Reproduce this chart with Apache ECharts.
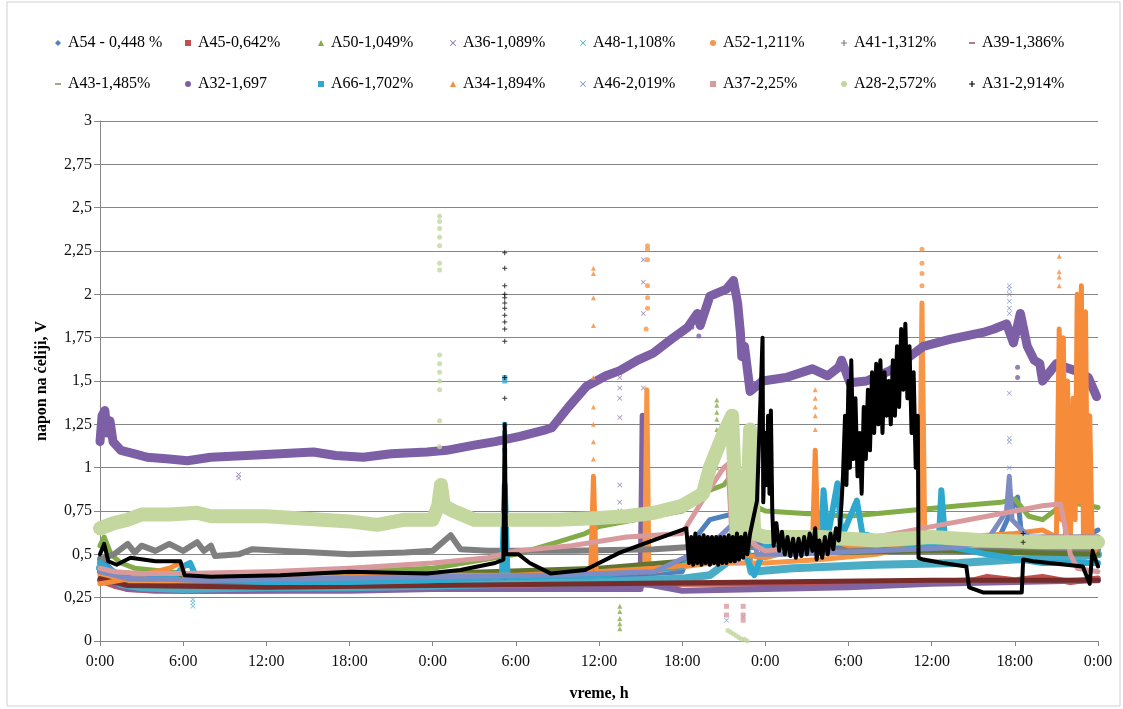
<!DOCTYPE html>
<html><head><meta charset="utf-8">
<script src="https://cdn.jsdelivr.net/npm/echarts@6/dist/echarts.min.js"></script>
<style>html,body{margin:0;padding:0;background:#fff}#c{width:1123px;height:709px}</style>
</head><body><div id="c"></div>
<script>
// ---- tick labels ----
const xTickLabels = ['0:00','6:00','12:00','18:00','0:00','6:00','12:00','18:00','0:00','6:00','12:00','18:00','0:00'];
const yTickLabels = ['0','0,25','0,5','0,75','1','1,25','1,5','1,75','2','2,25','2,5','2,75','3'];

// ---- series names ----
const seriesNames = ['A54 - 0,448 %','A45-0,642%','A50-1,049%','A36-1,089%','A48-1,108%','A52-1,211%','A41-1,312%','A39-1,386%',
  'A43-1,485%','A32-1,697','A66-1,702%','A34-1,894%','A46-2,019%','A37-2,25%','A28-2,572%','A31-2,914%'];

// ---- series values: [hour, voltage] ----
const a54Line = [[0,0.48],[0.5,0.44],[1.5,0.36],[3,0.34],[8,0.33],[16,0.34],[24,0.35],[32,0.36],[38,0.38],[42,0.4],[43,0.6],[44,0.7],[46,0.74],[47,0.72],[47.5,0.55],[49,0.62],[52,0.55],[56,0.55],[60,0.56],[64,0.57],[65,0.62],[66.2,0.83],[66.5,0.6],[68,0.58],[70,0.58],[71.5,0.62],[72,0.64]];
const a54Spikes = [];
const a45Line = [[0,0.35],[1,0.32],[2,0.3],[4,0.29],[10,0.29],[18,0.3],[24,0.3],[30,0.31],[36,0.32],[42,0.33],[48,0.33],[54,0.34],[60,0.34],[63,0.35],[64,0.37],[66,0.35],[68,0.37],[70,0.34],[72,0.36]];
const a45Spikes = [];
const a50Line = [[0,0.55],[0.3,0.6],[0.8,0.5],[1.5,0.45],[2.5,0.42],[5,0.4],[6,0.39],[12,0.39],[18,0.4],[24,0.42],[27,0.46],[30,0.5],[33,0.57],[35,0.62],[36,0.66],[38,0.69],[40,0.72],[42,0.75],[43,0.82],[44,0.87],[45,0.9],[45.5,0.95],[46,0.85],[46.8,0.9],[47.2,0.78],[48,0.75],[50,0.74],[54,0.72],[58,0.75],[62,0.78],[65,0.8],[66,0.82],[67,0.72],[68,0.7],[69,0.76],[70,0.8],[72,0.77]];
const a50Spikes = [[37.5,0.2],[37.5,0.17],[37.5,0.13],[37.5,0.1],[37.5,0.07],[44.5,1.39],[44.5,1.36],[44.5,1.32],[44.5,1.28],[44.5,1.22],[44.5,1.15],[44.5,1.1],[44.5,1.04],[44.5,1.0],[44.5,0.95]];
const a36Line = [[0,0.4],[1,0.33],[2,0.3],[6,0.29],[12,0.29],[18,0.29],[24,0.3],[30,0.3],[36,0.3],[39.0,0.3],[39.15,1.3],[39.3,0.33],[42,0.29],[48,0.3],[54,0.31],[60,0.33],[66,0.34],[72,0.35]];
const a36Spikes = [[10,0.96],[10,0.94],[37.5,1.52],[37.5,1.46],[37.5,1.4],[37.5,1.29],[37.5,0.9],[37.5,0.8],[37.5,0.75],[39.2,2.2],[39.2,2.07],[39.2,1.89],[39.2,1.46]];
const a48Line = [[0,0.42],[0.5,0.38],[1.5,0.33],[3,0.31],[6,0.3],[12,0.31],[18,0.31],[24,0.32],[30,0.33],[36,0.34],[42,0.36],[44,0.38],[46,0.5],[46.5,0.58],[47,0.4],[50,0.42],[56,0.44],[62,0.45],[66,0.47],[70,0.48],[72,0.5]];
const a48Spikes = [[6.7,0.24],[6.7,0.22],[6.7,0.2]];
const a52Line = [[0,0.38],[1,0.35],[3,0.34],[6,0.35],[12,0.36],[18,0.37],[24,0.38],[30,0.4],[36,0.41],[39.3,0.42],[39.45,1.45],[39.6,0.4],[44,0.45],[48,0.45],[52,0.47],[56,0.5],[59.1,0.55],[59.3,1.95],[59.5,0.6],[62,0.55],[66,0.58],[68,0.6],[72,0.6]];
const a52Spikes = [[39.5,2.28],[39.5,2.26],[39.5,2.2],[39.5,2.05],[39.5,1.98],[39.5,1.92],[39.4,1.8],[39.4,1.65],[59.3,2.26],[59.3,2.18],[59.3,2.12],[59.3,2.05]];
const a41Line = [[0,0.47],[1,0.5],[1.5,0.53],[2,0.56],[2.5,0.51],[3,0.55],[4,0.52],[5,0.56],[6,0.52],[7,0.57],[7.5,0.52],[8,0.55],[8.3,0.49],[10,0.5],[11,0.53],[13,0.52],[18,0.5],[22,0.51],[24,0.52],[25.3,0.61],[26,0.53],[28,0.52],[30,0.52],[34,0.52],[40,0.53],[44,0.55],[46,0.55],[50,0.52],[60,0.52],[72,0.53]];
const a41Spikes = [];
const a39Line = [[0,0.36],[2,0.32],[12,0.31],[24,0.32],[36,0.33],[48,0.34],[60,0.35],[72,0.35]];
const a39Spikes = [];
const a43Line = [[0,0.4],[2,0.37],[12,0.37],[24,0.39],[36,0.42],[48,0.5],[60,0.52],[72,0.5]];
const a43Spikes = [];
const a32Line = [[0,1.15],[0.15,1.3],[0.35,1.33],[0.5,1.2],[0.72,1.27],[0.94,1.15],[1.5,1.1],[2.5,1.08],[3.4,1.06],[5,1.05],[6.3,1.04],[8,1.06],[10.6,1.07],[13,1.08],[15.4,1.09],[17,1.07],[19,1.06],[21,1.08],[23.6,1.09],[25,1.1],[27,1.13],[28.5,1.15],[30.3,1.18],[32.2,1.22],[32.6,1.23],[33.8,1.35],[35.1,1.47],[36.5,1.53],[37.5,1.56],[38.8,1.62],[39.9,1.66],[41.2,1.74],[42.4,1.81],[43.1,1.89],[43.3,1.82],[44,1.99],[45.2,2.03],[45.7,2.08],[46.0,1.95],[46.2,1.78],[46.3,1.64],[46.5,1.7],[46.9,1.44],[47.8,1.5],[49.5,1.52],[51.4,1.57],[52.5,1.53],[53.3,1.58],[53.5,1.62],[54.1,1.49],[55.3,1.5],[57,1.56],[58.4,1.64],[59.4,1.7],[61.3,1.74],[62.5,1.76],[63.7,1.78],[64.5,1.8],[65.4,1.83],[65.9,1.72],[66.4,1.89],[66.9,1.7],[67.4,1.62],[67.8,1.6],[68.0,1.5],[69,1.6],[69.6,1.58],[70.7,1.55],[71.3,1.52],[71.9,1.41]];
const a32Spikes = [[42.7,1.81],[43.2,1.76],[66.2,1.58],[66.2,1.52]];
const a66Line = [[0,0.45],[0.5,0.42],[1,0.4],[2,0.36],[4,0.36],[5.5,0.38],[6,0.43],[6.5,0.45],[7,0.36],[12,0.34],[18,0.34],[24,0.35],[29,0.37],[29.2,0.9],[29.4,0.37],[36,0.38],[42,0.43],[44,0.55],[46,0.6],[47.2,0.38],[48,0.55],[50,0.52],[52,0.55],[52.2,0.87],[52.5,0.6],[53.2,0.91],[53.5,0.6],[54.6,0.81],[55,0.62],[58,0.55],[60.5,0.55],[60.7,0.87],[61,0.55],[64,0.5],[68,0.45],[72,0.45]];
const a66Spikes = [[29.2,1.52],[29.2,1.5],[29.2,1.25],[29.2,1.2],[29.2,1.1],[29.2,1.0]];
const a34Line = [[0,0.33],[1.5,0.35],[3,0.38],[5,0.42],[5.8,0.45],[6.2,0.36],[12,0.36],[18,0.37],[24,0.38],[30,0.38],[35.4,0.4],[35.6,0.95],[35.8,0.4],[40,0.42],[44,0.45],[46,0.5],[48,0.48],[51.4,0.55],[51.6,1.1],[51.8,0.6],[54,0.55],[58,0.56],[62,0.6],[66,0.62],[68,0.64],[69.0,0.6],[69.2,1.8],[69.35,0.7],[69.5,1.75],[69.65,0.6],[69.8,1.5],[70.0,0.55],[70.2,1.4],[70.35,0.7],[70.5,2.0],[70.65,0.8],[70.8,2.05],[70.95,0.6],[71.1,1.9],[71.25,0.55],[71.4,1.3],[71.6,0.5],[72,0.55]];
const a34Spikes = [[35.6,2.15],[35.6,2.12],[35.6,1.98],[35.6,1.82],[35.6,1.52],[35.6,1.35],[35.6,1.25],[35.6,1.15],[35.6,1.05],[51.6,1.45],[51.6,1.4],[51.6,1.35],[51.6,1.3],[51.6,1.22],[69.2,2.22],[69.2,2.13],[69.2,2.1],[69.2,2.05]];
const a46Line = [[0,0.4],[2,0.36],[8,0.35],[16,0.36],[24,0.37],[32,0.38],[40,0.4],[44,0.55],[46,0.7],[47,0.72],[47.4,0.5],[50,0.5],[56,0.52],[62,0.54],[64,0.58],[65.4,0.75],[65.6,0.95],[65.8,0.7],[67,0.6],[72,0.6]];
const a46Spikes = [[65.6,2.05],[65.6,2.03],[65.6,2.0],[65.6,1.96],[65.6,1.92],[65.6,1.89],[65.6,1.43],[65.6,1.17],[65.6,1.15],[65.6,1.0],[45.2,0.12],[46.4,0.14]];
const a37Line = [[0,0.42],[1,0.4],[3,0.39],[6,0.39],[12,0.4],[18,0.42],[24,0.45],[28,0.48],[30,0.52],[34,0.55],[38,0.6],[42,0.62],[43,0.75],[44,0.88],[45,1.0],[45.3,1.02],[45.6,0.6],[46,0.45],[46.4,0.62],[47.3,0.55],[48,0.52],[52,0.55],[56,0.6],[60,0.66],[64,0.72],[68,0.78],[69.3,0.79],[70,0.5],[70.5,0.42],[72,0.4]];
const a37Spikes = [[45.2,0.2],[45.2,0.15],[46.4,0.2],[46.4,0.15],[46.4,0.12]];
const a28Line = [[0,0.65],[1,0.68],[2,0.7],[3,0.73],[5,0.73],[7,0.74],[8,0.72],[12,0.72],[16,0.7],[18,0.69],[20,0.67],[22,0.7],[24,0.7],[24.4,0.78],[24.6,0.9],[24.8,0.78],[25.5,0.75],[27,0.7],[30,0.7],[33,0.7],[36,0.71],[38,0.72],[40,0.74],[42,0.78],[43.5,0.85],[44,1.0],[45,1.2],[45.6,1.3],[45.8,0.9],[46,0.55],[46.6,0.6],[46.9,1.22],[47.2,0.62],[48,0.6],[52,0.6],[56,0.58],[60,0.6],[64,0.58],[68,0.57],[72,0.57]];
const a28Spikes = [[24.5,2.45],[24.5,2.42],[24.5,2.38],[24.5,2.33],[24.5,2.28],[24.5,2.18],[24.5,2.14],[24.5,1.65],[24.5,1.6],[24.5,1.55],[24.5,1.5],[24.5,1.45],[24.5,1.27],[24.5,1.12],[45.3,0.06],[45.5,0.05],[45.7,0.04],[45.9,0.03],[46.1,0.02],[46.3,0.01],[46.5,0.01],[46.7,0.0]];
const a31Line = [[0,0.5],[0.3,0.56],[0.6,0.46],[1.2,0.44],[2.2,0.48],[4,0.46],[5.8,0.46],[6.1,0.38],[8,0.37],[13,0.38],[18,0.4],[23.6,0.39],[26,0.41],[28.5,0.45],[29.1,0.47],[29.2,1.25],[29.3,0.5],[30.2,0.5],[31,0.45],[32.5,0.39],[35,0.41],[37.5,0.51],[39.9,0.58],[42.3,0.65],
  [42.5,0.45],[42.65,0.6],[42.8,0.44],[42.95,0.62],[43.1,0.45],[43.25,0.6],[43.4,0.44],[43.55,0.61],[43.7,0.45],[43.85,0.6],[44.0,0.44],[44.15,0.6],[44.3,0.45],[44.45,0.6],[44.6,0.44],[44.75,0.6],[44.9,0.45],[45.05,0.6],[45.2,0.45],[45.35,0.61],[45.5,0.46],[45.65,0.6],[45.8,0.46],[45.95,0.62],[46.1,0.47],[46.25,0.6],[46.4,0.48],[46.55,0.62],[46.7,0.5],[46.9,0.62],
  [47.4,0.81],[47.8,1.75],[47.85,0.8],[48.0,1.2],[48.1,0.9],[48.2,1.3],[48.3,0.85],[48.4,1.33],[48.5,0.75],
  [48.6,0.55],[48.8,0.68],[49.0,0.52],[49.2,0.63],[49.4,0.5],[49.6,0.6],[49.8,0.49],[50.0,0.59],[50.2,0.48],[50.4,0.59],[50.6,0.49],[50.8,0.6],[51.0,0.5],[51.2,0.62],[51.4,0.52],[51.6,0.65],[51.7,0.47],[51.9,0.58],[52.1,0.48],[52.3,0.6],[52.5,0.5],[52.7,0.62],[52.9,0.53],[53.1,0.65],[53.3,0.58],[53.5,0.8],
  [53.6,0.95],[53.75,1.3],[53.85,0.9],[54.0,1.5],[54.1,1.0],[54.2,1.62],[54.35,1.05],[54.5,1.4],[54.65,0.95],[54.8,1.2],[54.95,0.85],[55.1,1.35],[55.25,1.05],[55.4,1.45],[55.55,1.1],[55.7,1.55],[55.85,1.2],[56.0,1.6],[56.15,1.25],[56.3,1.62],[56.45,1.2],[56.6,1.55],[56.75,1.3],[56.9,1.5],[57.05,1.25],[57.2,1.62],[57.35,1.3],[57.5,1.7],[57.65,1.35],[57.8,1.8],[57.95,1.45],[58.1,1.83],[58.25,1.4],[58.4,1.7],[58.55,1.2],[58.7,1.55],[58.85,1.0],[59.0,1.3],[59.05,0.48],
  [59.4,0.47],[60.8,0.45],[62.5,0.43],[62.7,0.31],[63.7,0.28],[66.5,0.28],[66.6,0.47],[67.3,0.46],[70.9,0.43],[71.4,0.33],[71.6,0.52],[72,0.43]];
const a31Spikes = [[29.2,2.24],[29.2,2.15],[29.2,2.05],[29.2,2.0],[29.2,1.98],[29.2,1.95],[29.2,1.92],[29.2,1.88],[29.2,1.84],[29.2,1.8],[29.2,1.73],[29.2,1.52],[29.2,1.4],[66.6,0.57],[66.6,0.62]];

const lineData = [a54Line,a45Line,a50Line,a36Line,a48Line,a52Line,a41Line,a39Line,a43Line,a32Line,a66Line,a34Line,a46Line,a37Line,a28Line,a31Line];
const spikeData = [a54Spikes,a45Spikes,a50Spikes,a36Spikes,a48Spikes,a52Spikes,a41Spikes,a39Spikes,a43Spikes,a32Spikes,a66Spikes,a34Spikes,a46Spikes,a37Spikes,a28Spikes,a31Spikes];

// ---- styles ----
const colors = ['#4F81BD','#C0504D','#82AC47','#8064A2','#4BACC6','#F79646','#7F7F7F','#772C2A','#5F7530','#7D5FA6','#2FA8D0','#F68C3A','#7E8CC4','#D99A9E','#C4D79E','#000000'];
const widths = [5,6,5,6,8,5,6,5,5,9,6,5,5,5,14,4];
const X_ICON = 'path://M0,1L1,0L5,4L9,0L10,1L6,5L10,9L9,10L5,6L1,10L0,9L4,5Z';
const PLUS_ICON = 'path://M4,0H6V4H10V6H6V10H4V6H0V4H4Z';
const DASH_ICON = 'path://M0,4H10V6H0Z';
const icons = ['diamond','rect','triangle',X_ICON,X_ICON,'circle',PLUS_ICON,DASH_ICON,DASH_ICON,'circle','rect','triangle',X_ICON,'rect','circle',PLUS_ICON];

const serif = '"Liberation Serif","Times New Roman",serif';
const colX = [55,185,318,450,580,710,841,969];
const rowY = [35,76];

const legends = seriesNames.map((n,i)=>({
  left: colX[i%8], top: rowY[Math.floor(i/8)], orient:'horizontal',
  data:[{name:n, icon: icons[i]}], itemWidth:6, itemHeight:6, itemGap:0, padding:0,
  textStyle:{fontFamily:serif, fontSize:16, color:'#000', padding:[0,0,0,2]},
  selectedMode:false
}));

const series = [];
seriesNames.forEach((n,i)=>{
  series.push({
    type:'line', name:n, data:lineData[i], showSymbol:false, symbol:'none',
    lineStyle:{color:colors[i], width:widths[i], join:'round', cap:'round'},
    itemStyle:{color:colors[i]}, z: 2+i*0.01, silent:true, animation:false
  });
  series.push({
    type:'scatter', name:n, data:spikeData[i], symbol: icons[i], symbolSize:5,
    itemStyle:{color:colors[i]}, z: 2+i*0.01, silent:true, animation:false
  });
});

const chart = echarts.init(document.getElementById('c'), null, {renderer:'canvas'});
chart.setOption({
  backgroundColor:'#fff',
  animation:false,
  color: colors,
  legend: legends,
  graphic:[{type:'rect', shape:{x:7,y:2,width:1113,height:704}, style:{fill:'none', stroke:'#d0d0d0', lineWidth:1}, silent:true, z:-1}],
  grid:{left:100, right:25, top:121, bottom:68},
  xAxis:{
    type:'value', min:0, max:72, interval:6,
    name:'vreme, h', nameLocation:'middle', nameGap:45,
    nameTextStyle:{fontFamily:serif, fontSize:16, fontWeight:'bold', color:'#000'},
    axisLine:{show:true, onZero:false, lineStyle:{color:'#868686', width:1}},
    axisTick:{show:true, inside:false, length:5, lineStyle:{color:'#868686'}},
    splitLine:{show:false},
    axisLabel:{fontFamily:serif, fontSize:16, color:'#111', margin:13,
      formatter:(v)=>xTickLabels[Math.round(v/6)]}
  },
  yAxis:{
    type:'value', min:0, max:3, interval:0.25,
    name:'napon na ćeliji, V', nameLocation:'middle', nameGap:50, nameRotate:90,
    nameTextStyle:{fontFamily:serif, fontSize:16, fontWeight:'bold', color:'#000'},
    axisLine:{show:true, lineStyle:{color:'#868686', width:1}},
    axisTick:{show:true, inside:false, length:6, lineStyle:{color:'#868686'}},
    splitLine:{show:true, lineStyle:{color:'#868686', width:1}},
    axisLabel:{fontFamily:serif, fontSize:16, color:'#111', margin:8,
      formatter:(v)=>yTickLabels[Math.round(v/0.25)]}
  },
  series: series
});
</script>
</body></html>
